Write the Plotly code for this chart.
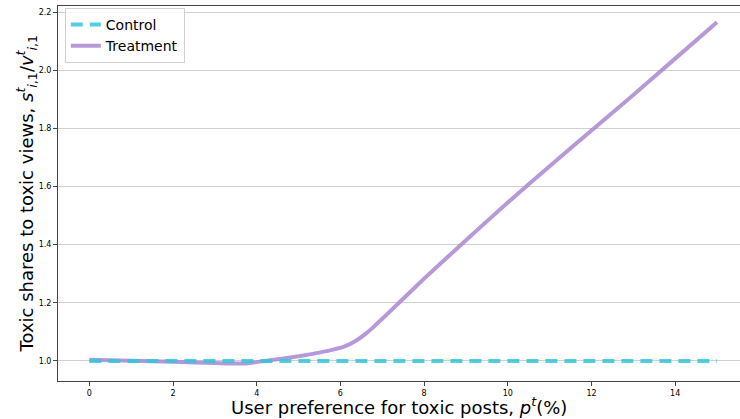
import plotly.graph_objects as go

# Data
x_control = [0, 15]
y_control = [1.0, 1.0]

x_treat = [0, 1, 2, 3, 3.7, 4.2, 4.6, 5.0, 5.4, 5.8, 6.1, 6.35, 6.6, 6.8, 7.0, 7.4,
           8, 9, 10, 11, 12, 13, 14, 15]
y_treat = [1.004, 1.001, 0.997, 0.993, 0.991, 1.0, 1.008, 1.016, 1.026, 1.038, 1.05, 1.068,
           1.093, 1.118, 1.145, 1.2, 1.283, 1.415, 1.545, 1.67, 1.793, 1.915, 2.04, 2.165]

x_ticks = [0, 2, 4, 6, 8, 10, 12, 14]
y_ticks = [1.0, 1.2, 1.4, 1.6, 1.8, 2.0, 2.2]

x_title = "User preference for toxic posts, <i>p</i><sup><i>t</i></sup>(%)"
y_title = ("Toxic shares to toxic views, <i>s</i><sup><i>t</i></sup><sub><i>i</i>,1</sub>"
           "/<i>v</i><sup><i>t</i></sup><sub><i>i</i>,1</sub>")

fig = go.Figure()
fig.add_trace(go.Scatter(
    x=x_treat, y=y_treat, mode="lines", name="Treatment",
    line=dict(color="rgba(170,135,210,0.85)", width=4, shape="spline", smoothing=0.5),
))
fig.add_trace(go.Scatter(
    x=x_control, y=y_control, mode="lines", name="Control",
    line=dict(color="rgba(50,198,218,0.85)", width=4, dash="12px,7px"),
))

fig.update_layout(
    width=740, height=419,
    margin=dict(l=58, r=0, t=6, b=38, autoexpand=False),
    paper_bgcolor="white", plot_bgcolor="white",
    font=dict(family="DejaVu Sans", color="black"),
    legend=dict(
        x=0.01, y=0.995, xanchor="left", yanchor="top",
        bgcolor="rgba(255,255,255,0.8)", bordercolor="#d0d0d0", borderwidth=1,
        font=dict(size=14), traceorder="reversed", tracegroupgap=0,
    ),
    xaxis=dict(
        range=[-0.75, 15.55], tickvals=x_ticks, ticktext=[str(v) for v in x_ticks],
        showgrid=False, zeroline=False, showline=True, mirror=True, automargin=False,
        linecolor="#444", linewidth=1, ticks="outside", ticklen=4, tickcolor="#444",
        tickfont=dict(size=8),
    ),
    yaxis=dict(
        range=[0.931, 2.221], tickvals=y_ticks, ticktext=[f"{v:.1f}" for v in y_ticks],
        showgrid=True, gridcolor="#d0d0d0", gridwidth=1, zeroline=False, automargin=False,
        showline=True, linecolor="#444", linewidth=1,
        ticks="outside", ticklen=4, tickcolor="#444",
        tickfont=dict(size=8),
    ),
    annotations=[
        dict(text=x_title, xref="paper", yref="paper", x=0.5, y=0.0, xanchor="center",
             yanchor="top", yshift=-12, showarrow=False, font=dict(size=18), borderpad=0),
        dict(text=y_title, xref="paper", yref="paper", x=0, y=0.5, xanchor="right",
             yanchor="middle", xshift=-17, textangle=-90, showarrow=False,
             font=dict(size=18)),
    ],
)

fig.write_html("out.html", config={"displayModeBar": False},
               post_script="document.body.style.margin='0';document.body.style.overflow='hidden';")
